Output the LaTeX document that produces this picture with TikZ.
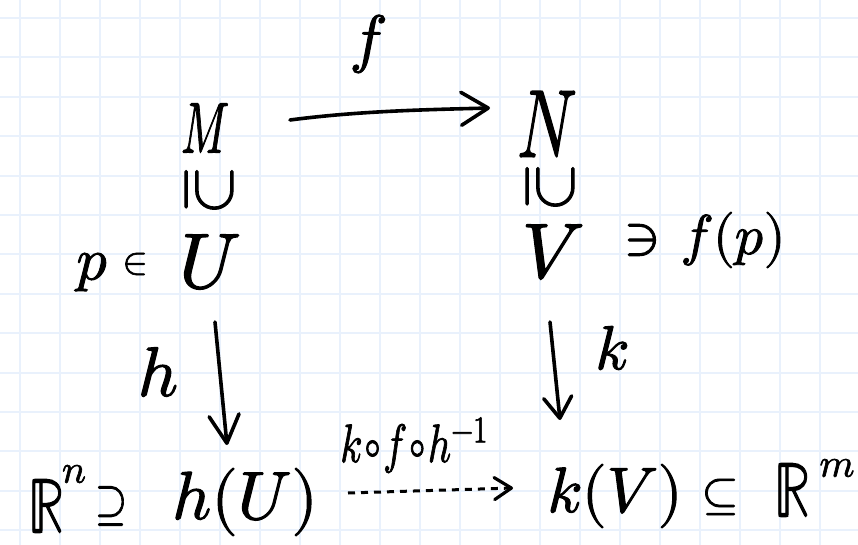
\documentclass[tikz,border=0pt]{standalone}
\usepackage{unicode-math}
\setmathfont{Latin Modern Math}[FakeBold=1.6]
\usepackage{graphicx}
\usetikzlibrary{arrows.meta,calc}
\newcommand\hwsize[1]{\fontsize{#1}{#1}\selectfont}
\definecolor{gridblue}{RGB}{233,241,252}
\begin{document}
\begin{tikzpicture}[x=1pt,y=-1pt,
  ink/.style={inner sep=0pt, outer sep=0pt, text=black, anchor=center},
  gridline/.style={draw=gridblue, line width=2pt},
  inkarrow/.style={draw=black, line width=3.6pt, line cap=round},
  dasharrow/.style={draw=black, line width=3pt, dash pattern=on 7pt off 6pt}
]
\useasboundingbox (0,0) rectangle (858,545);
\fill[white] (0,0) rectangle (858,545);
\foreach \i in {0,...,21} \draw[gridline] (20+40*\i,0) -- (20+40*\i,545);
\foreach \j in {0,...,13} \draw[gridline] (0,18+39.4*\j) -- (858,18+39.4*\j);

% top row
\node[ink] (lf) at (368,44) {\hwsize{64}$f$};
\node[ink] (M) at (205,128) {\scalebox{0.62}[1]{\hwsize{72}$M$}};
\node[ink] (N) at (547,124) {\scalebox{0.68}[1]{\hwsize{96}$N$}};
\node[ink] (s1) at (209,190) {\rotatebox{-90}{\hwsize{64}$\supseteq$}};
\node[ink] (s2) at (550,187) {\rotatebox{-90}{\hwsize{64}$\supseteq$}};
% middle row
\node[ink] (p) at (92,272) {\hwsize{60}$p$};
\node[ink] (in) at (135,264) {\hwsize{38}$\in$};
\node[ink] (U) at (210,262) {\hwsize{78}$U$};
\node[ink] (V) at (553,252) {\hwsize{78}$V$};
\node[ink] (ni) at (642,240) {\hwsize{54}$\ni$};
\node[ink] (fp) at (733,240) {\hwsize{56}$f(p)$};
% arrow labels
\node[ink] (lh) at (158,372) {\hwsize{70}$h$};
\node[ink] (lk) at (612,348) {\hwsize{62}$k$};
\node[ink, anchor=base] (lkfh) at (414,462) {\scalebox{0.75}[1]{\hwsize{54}$k\!\circ\! f\!\circ\! h^{-1}$}};
% bottom row
\node[ink] (Rn) at (46,506) {\scalebox{0.72}[1]{\hwsize{78}$\mathbb{R}$}};
\node[ink] (n) at (74,474) {\hwsize{40}$n$};
\node[ink] (sup) at (111,506) {\scalebox{0.8}[1]{\hwsize{52}$\supseteq$}};
\node[ink] (hU) at (245,502) {\hwsize{68}$h(U)$};
\node[ink] (kV) at (615,496) {\hwsize{64}$k(V)$};
\node[ink] (sub) at (720,497) {\hwsize{48}$\subseteq$};
\node[ink] (Rm) at (792,490) {\scalebox{0.72}[1]{\hwsize{78}$\mathbb{R}$}};
\node[ink] (m) at (837,468) {\hwsize{40}$m$};

% connector end points, anchored on the nodes
\coordinate (fA) at ($(M)+(85,-8)$);
\coordinate (fB) at ($(N)+(-57,-16)$);
\coordinate (hA) at ($(U)+(5,60)$);
\coordinate (hB) at ($(hU)+(-18,-57)$);
\coordinate (kA) at ($(V)+(-3,70)$);
\coordinate (kB) at ($(kV)+(-55,-76)$);
\coordinate (dA) at ($(hU)+(103,-9)$);
\coordinate (dB) at ($(kV)+(-102,-8)$);

\draw[inkarrow, -{Straight Barb[length=27pt,width=33pt,line width=3.6pt,round]}]
  (fA) .. controls ($(fA)!0.35!(fB)+(0,-5)$) and ($(fA)!0.7!(fB)+(0,-2)$) .. (fB);
\draw[inkarrow, -{Straight Barb[length=28pt,width=30pt,line width=3.6pt,round]}] (hA) -- (hB);
\draw[inkarrow, -{Straight Barb[length=21pt,width=28pt,line width=3.6pt,round]}] (kA) -- (kB);
\draw[dasharrow, -{Straight Barb[length=17pt,width=22pt,line width=3.2pt,round]}] (dA) -- (dB);
\end{tikzpicture}
\end{document}
